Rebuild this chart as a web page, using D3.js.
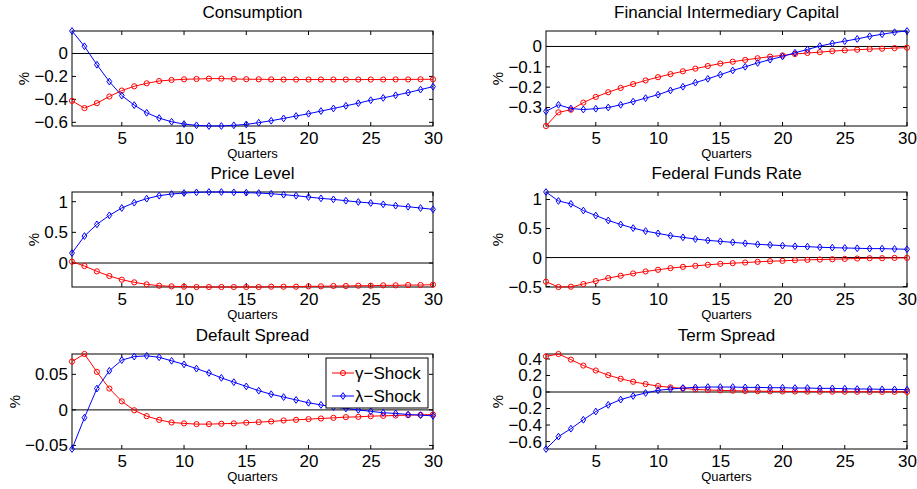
<!DOCTYPE html>
<html>
<head>
<meta charset="utf-8">
<script src="https://cdn.jsdelivr.net/npm/d3@7"></script>
<style>
  body { margin: 0; background: #fff; }
  svg text { font-family: "Liberation Sans", Arial, Helvetica, sans-serif; fill: #000; }
</style>
</head>
<body>
<div id="chart"></div>
<script>
// quarters after the shock
const quarters = [1,2,3,4,5,6,7,8,9,10,11,12,13,14,15,16,17,18,19,20,21,22,23,24,25,26,27,28,29,30];
const xTicks = [5, 10, 15, 20, 25, 30];
const seriesNames = ["\u03b3\u2212Shock", "\u03bb\u2212Shock"];

// Consumption
const consumptionGamma = [-0.413,-0.476,-0.433,-0.375,-0.323,-0.286,-0.260,-0.240,-0.231,-0.225,-0.222,-0.219,-0.219,-0.222,-0.224,-0.225,-0.226,-0.227,-0.227,-0.227,-0.227,-0.227,-0.227,-0.227,-0.227,-0.227,-0.226,-0.226,-0.225,-0.225];
const consumptionLambda = [0.196,0.063,-0.098,-0.245,-0.367,-0.450,-0.517,-0.563,-0.595,-0.615,-0.626,-0.632,-0.632,-0.626,-0.618,-0.603,-0.586,-0.566,-0.545,-0.525,-0.502,-0.479,-0.456,-0.433,-0.407,-0.387,-0.364,-0.341,-0.315,-0.289];
const consumptionTicks = [-0.6, -0.4, -0.2, 0];

// Financial Intermediary Capital
const capitalGamma = [-0.391,-0.324,-0.311,-0.276,-0.248,-0.225,-0.204,-0.185,-0.167,-0.151,-0.136,-0.122,-0.109,-0.096,-0.084,-0.075,-0.066,-0.058,-0.050,-0.044,-0.037,-0.032,-0.028,-0.023,-0.019,-0.016,-0.013,-0.011,-0.008,-0.006];
const capitalLambda = [-0.319,-0.287,-0.305,-0.310,-0.306,-0.300,-0.287,-0.271,-0.254,-0.237,-0.216,-0.198,-0.178,-0.159,-0.139,-0.118,-0.100,-0.081,-0.065,-0.049,-0.031,-0.015,0.002,0.015,0.026,0.037,0.050,0.060,0.070,0.076];
const capitalTicks = [-0.3, -0.2, -0.1, 0];

// Price Level
const priceGamma = [0.022,-0.049,-0.136,-0.212,-0.272,-0.315,-0.348,-0.370,-0.380,-0.386,-0.391,-0.391,-0.391,-0.391,-0.391,-0.391,-0.386,-0.386,-0.386,-0.380,-0.380,-0.375,-0.375,-0.370,-0.370,-0.364,-0.364,-0.359,-0.359,-0.353];
const priceLambda = [0.163,0.440,0.630,0.777,0.897,0.984,1.049,1.098,1.125,1.141,1.152,1.158,1.158,1.152,1.147,1.141,1.130,1.114,1.098,1.076,1.054,1.038,1.016,0.995,0.978,0.957,0.935,0.918,0.897,0.875];
const priceTicks = [0, 0.5, 1];

// Federal Funds Rate
const fedFundsGamma = [-0.416,-0.507,-0.502,-0.456,-0.405,-0.353,-0.314,-0.274,-0.239,-0.211,-0.182,-0.160,-0.143,-0.125,-0.108,-0.097,-0.086,-0.074,-0.063,-0.057,-0.046,-0.040,-0.034,-0.029,-0.023,-0.017,-0.011,-0.011,-0.006,-0.006];
const fedFundsLambda = [1.129,0.975,0.924,0.810,0.724,0.639,0.570,0.507,0.456,0.416,0.376,0.348,0.319,0.296,0.279,0.262,0.245,0.228,0.217,0.205,0.194,0.188,0.177,0.171,0.165,0.160,0.154,0.154,0.148,0.143];
const fedFundsTicks = [-0.5, 0, 0.5, 1];

// Default Spread
const defaultGamma = [0.068,0.0786,0.0535,0.030,0.012,-0.0005,-0.0088,-0.014,-0.0177,-0.019,-0.020,-0.020,-0.0195,-0.019,-0.018,-0.0172,-0.0163,-0.0149,-0.014,-0.013,-0.0121,-0.0112,-0.0102,-0.0098,-0.0088,-0.0084,-0.0079,-0.0074,-0.007,-0.0065];
const defaultLambda = [-0.055,-0.011,0.030,0.055,0.070,0.075,0.076,0.074,0.069,0.064,0.058,0.052,0.045,0.039,0.033,0.027,0.022,0.018,0.014,0.010,0.007,0.004,0.002,0.000,-0.002,-0.004,-0.005,-0.0065,-0.0074,-0.0084];
const defaultTicks = [-0.05, 0, 0.05];

// Term Spread
const termGamma = [0.432,0.460,0.392,0.320,0.260,0.204,0.160,0.124,0.096,0.072,0.056,0.044,0.032,0.024,0.020,0.016,0.012,0.010,0.008,0.007,0.006,0.005,0.004,0.004,0.003,0.003,0.002,0.002,0.002,0.002];
const termLambda = [-0.690,-0.540,-0.444,-0.336,-0.236,-0.156,-0.092,-0.048,-0.012,0.020,0.036,0.048,0.056,0.060,0.060,0.060,0.056,0.056,0.052,0.052,0.048,0.048,0.044,0.044,0.040,0.036,0.036,0.032,0.032,0.028];
const termTicks = [-0.6, -0.4, -0.2, 0, 0.2, 0.4];

const panels = [
    { title: "Consumption", gamma: consumptionGamma, lambda: consumptionLambda, ticks: consumptionTicks },
    { title: "Financial Intermediary Capital", gamma: capitalGamma, lambda: capitalLambda, ticks: capitalTicks },
    { title: "Price Level", gamma: priceGamma, lambda: priceLambda, ticks: priceTicks },
    { title: "Federal Funds Rate", gamma: fedFundsGamma, lambda: fedFundsLambda, ticks: fedFundsTicks },
    { title: "Default Spread", gamma: defaultGamma, lambda: defaultLambda, ticks: defaultTicks, legend: true },
    { title: "Term Spread", gamma: termGamma, lambda: termLambda, ticks: termTicks }
];

// layout of the 3x2 grid
const colX = [72, 546];
const rowY = [31, 192, 354];
const panelW = 361;
const panelH = 95;
const red = "#ff0000", blue = "#0000ff";

const svg = d3.select("#chart").append("svg")
    .attr("width", 917)
    .attr("height", 489);

// matlab style minus sign
const fmt = v => String(v).replace("-", "\u2212");

function diamondPath(cx, cy){
    return "M" + cx + "," + (cy - 3.4) + "L" + (cx + 2.4) + "," + cy +
        "L" + cx + "," + (cy + 3.4) + "L" + (cx - 2.4) + "," + cy + "Z";
}

panels.forEach((p, i) => {
    const g = svg.append("g")
        .attr("transform", "translate(" + colX[i % 2] + "," + rowY[Math.floor(i / 2)] + ")");

    const x = d3.scaleLinear().domain([1, 30]).range([0, panelW]);
    const y = d3.scaleLinear()
        .domain(d3.extent(p.gamma.concat(p.lambda)))
        .range([panelH, 0]);

    // zero line
    g.append("line")
        .attr("x1", 0).attr("x2", panelW)
        .attr("y1", y(0)).attr("y2", y(0))
        .attr("stroke", "#000")
        .attr("stroke-width", 1);

    // axes with inward ticks on all four sides
    const yLeft = g.append("g")
        .call(d3.axisLeft(y).tickValues(p.ticks).tickSize(0).tickPadding(4).tickFormat(fmt));
    const xBottom = g.append("g")
        .attr("transform", "translate(0," + panelH + ")")
        .call(d3.axisBottom(x).tickValues(xTicks).tickSize(0).tickPadding(6));
    [yLeft, xBottom].forEach(a => {
        a.select(".domain").remove();
        a.selectAll("text").style("font-size", "17px").attr("fill", "#000");
    });

    g.append("g").selectAll("line")
        .data(p.ticks).enter().append("line")
        .attr("x1", 0).attr("x2", 4)
        .attr("y1", d => y(d)).attr("y2", d => y(d))
        .attr("stroke", "#000");
    g.append("g").selectAll("line")
        .data(p.ticks).enter().append("line")
        .attr("x1", panelW - 4).attr("x2", panelW)
        .attr("y1", d => y(d)).attr("y2", d => y(d))
        .attr("stroke", "#000");
    g.append("g").selectAll("line")
        .data(xTicks).enter().append("line")
        .attr("x1", d => x(d)).attr("x2", d => x(d))
        .attr("y1", panelH - 4).attr("y2", panelH)
        .attr("stroke", "#000");
    g.append("g").selectAll("line")
        .data(xTicks).enter().append("line")
        .attr("x1", d => x(d)).attr("x2", d => x(d))
        .attr("y1", 0).attr("y2", 4)
        .attr("stroke", "#000");

    // box
    g.append("rect")
        .attr("width", panelW).attr("height", panelH)
        .attr("fill", "none")
        .attr("stroke", "#000")
        .attr("stroke-width", 1);

    // curves
    const line = d3.line().x((d, k) => x(quarters[k])).y(d => y(d));

    g.append("path").datum(p.gamma)
        .attr("d", line).attr("fill", "none").attr("stroke", red).attr("stroke-width", 1);
    g.append("g").selectAll("circle")
        .data(p.gamma).enter().append("circle")
        .attr("cx", (d, k) => x(quarters[k]))
        .attr("cy", d => y(d))
        .attr("r", 2.6)
        .attr("fill", "none").attr("stroke", red).attr("stroke-width", 1);

    g.append("path").datum(p.lambda)
        .attr("d", line).attr("fill", "none").attr("stroke", blue).attr("stroke-width", 1);
    g.append("g").selectAll("path")
        .data(p.lambda).enter().append("path")
        .attr("d", (d, k) => diamondPath(x(quarters[k]), y(d)))
        .attr("fill", "none").attr("stroke", blue).attr("stroke-width", 1);

    // title
    g.append("text")
        .attr("x", panelW / 2).attr("y", -13)
        .attr("text-anchor", "middle")
        .style("font-size", "17px")
        .text(p.title);

    // x label
    g.append("text")
        .attr("x", panelW / 2).attr("y", panelH + 32)
        .attr("text-anchor", "middle")
        .style("font-size", "13px")
        .text("Quarters");

    // y label, placed left of the widest tick label
    let maxW = 0;
    yLeft.selectAll("text").each(function(){ maxW = Math.max(maxW, this.getComputedTextLength()); });
    g.append("text")
        .attr("transform", "translate(" + (-(maxW + 4) - 5) + "," + (panelH / 2) + ") rotate(-90)")
        .attr("text-anchor", "middle")
        .style("font-size", "15px")
        .text("%");

    if (p.legend) addLegend(g);
});

function addLegend(g){
    // legend box in the Default Spread panel (panel coords)
    const lx = 326 - colX[0], ly = 358 - rowY[2];
    const lg = g.append("g").attr("transform", "translate(" + lx + "," + ly + ")");
    lg.append("rect")
        .attr("width", 102).attr("height", 50)
        .attr("fill", "#fff").attr("stroke", "#000").attr("stroke-width", 1);

    const items = [{ label: seriesNames[0], colour: red, marker: "circle" },
                   { label: seriesNames[1], colour: blue, marker: "diamond" }];
    const rows = lg.selectAll(".legend")
        .data(items).enter().append("g")
        .attr("class", "legend")
        .attr("transform", (d, i) => "translate(0," + (15 + i * 23) + ")");
    rows.append("line")
        .attr("x1", 6).attr("x2", 28)
        .attr("stroke", d => d.colour).attr("stroke-width", 1);
    rows.each(function(d){
        const r = d3.select(this);
        if (d.marker === "circle") {
            r.append("circle").attr("cx", 17).attr("cy", 0).attr("r", 2.6)
                .attr("fill", "none").attr("stroke", d.colour);
        } else {
            r.append("path").attr("d", diamondPath(17, 0))
                .attr("fill", "none").attr("stroke", d.colour);
        }
    });
    rows.append("text")
        .attr("x", 29).attr("y", 6)
        .style("font-size", "17px")
        .text(d => d.label);
}
</script>
</body>
</html>
